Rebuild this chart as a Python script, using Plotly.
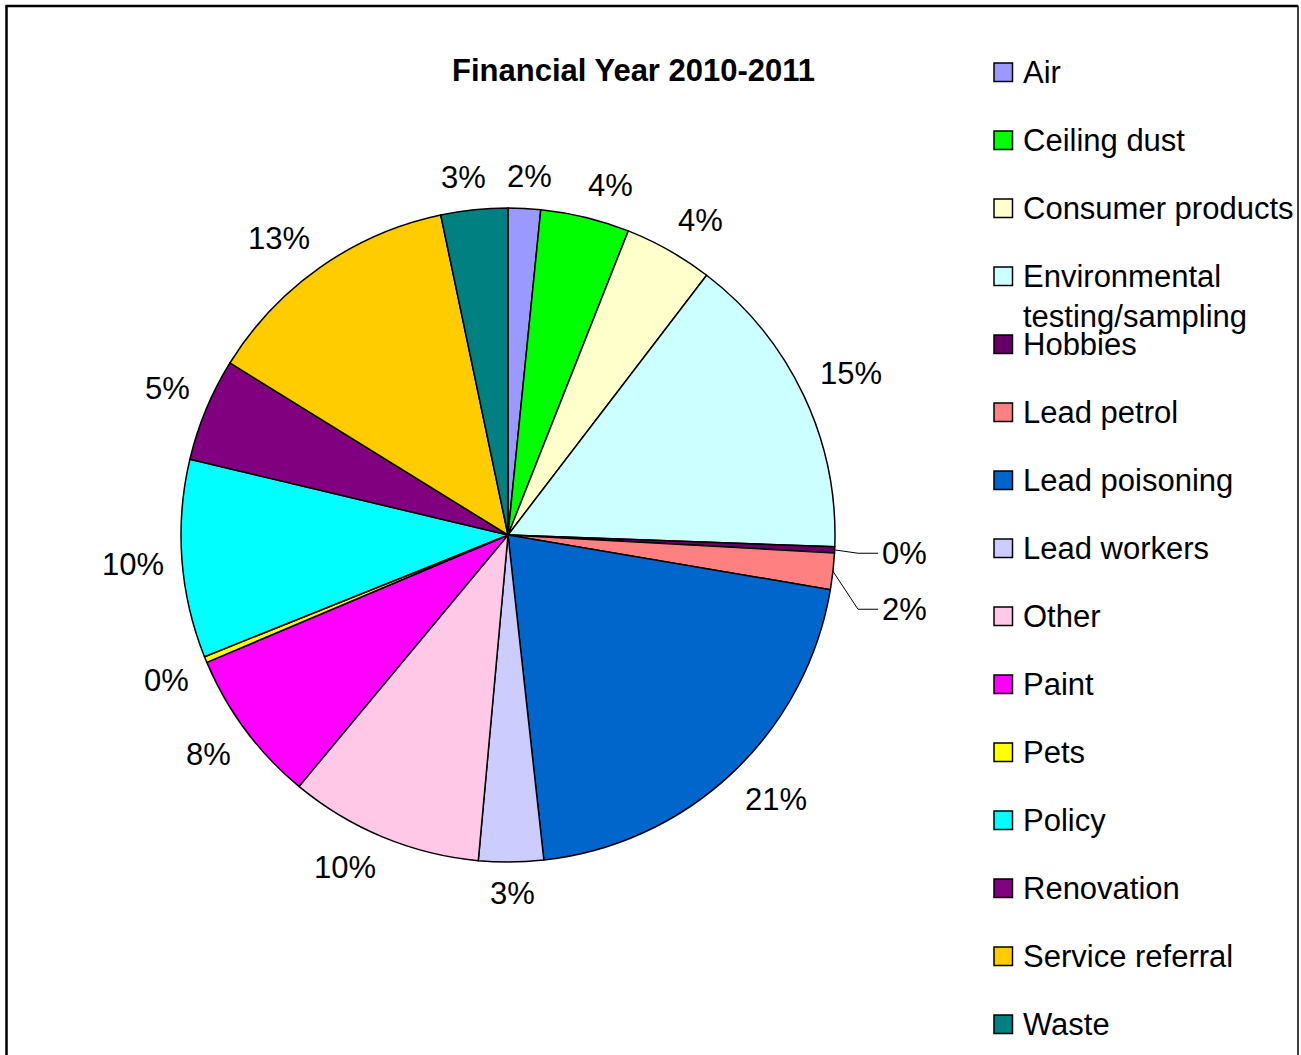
import math
import plotly.graph_objects as go

W, H = 1301, 1055

categories = ["Air", "Ceiling dust", "Consumer products", "Environmental testing/sampling",
              "Hobbies", "Lead petrol", "Lead poisoning", "Lead workers", "Other", "Paint",
              "Pets", "Policy", "Renovation", "Service referral", "Waste"]
legend_labels = ["Air", "Ceiling dust", "Consumer products", "Environmental<br>testing/sampling",
                 "Hobbies", "Lead petrol", "Lead poisoning", "Lead workers", "Other", "Paint",
                 "Pets", "Policy", "Renovation", "Service referral", "Waste"]
shares = [1.6, 4.4, 4.4, 15.2, 0.3, 1.8, 20.6, 3.2, 9.6, 7.6, 0.3, 9.8, 5.1, 12.9, 3.3]
colors = ["#9999FF", "#00FF00", "#FFFFCC", "#CCFFFF", "#660066", "#FF8080", "#0066CC",
          "#CCCCFF", "#FFC8E6", "#FF00FF", "#FFFF00", "#00FFFF", "#800080", "#FFCC00", "#008080"]
title_text = "Financial Year 2010-2011"

FONT = "Liberation Sans, Arial, sans-serif"
FS = 31


def px(x):
    return x / W


def py(y):
    return 1 - y / H


cx, cy, r = 508, 535, 327

fig = go.Figure()
fig.add_trace(go.Pie(
    labels=categories,
    values=shares,
    sort=False,
    direction="clockwise",
    rotation=0,
    marker=dict(colors=colors, line=dict(color="black", width=1.5)),
    textinfo="none",
    domain=dict(x=[px(cx - r), px(cx + r)], y=[py(cy + r), py(cy - r)]),
    showlegend=False,
    hovertemplate="%{label}: %{percent:.0%}<extra></extra>",
))

shapes = []
annotations = []

# ---- Percentage labels placed outside the pie (derived from the slice values) ----
total = sum(shares)
labels_info = []
cum = 0.0
R_LAB = r + 18
HH = 14
for v in shares:
    theta = math.radians((cum + v / 2) / total * 360)
    cum += v
    txt = "%d%%" % round(v / total * 100)
    ndig = len(txt) - 1
    w = (0.556 * ndig + 0.889) * FS
    s, c = math.sin(theta), math.cos(theta)
    fx = math.copysign(min(1.0, abs(s) / 0.25), s)
    fy = math.copysign(min(1.0, abs(c) / 0.25), c)
    x = cx + R_LAB * s + fx * w / 2
    y = cy - R_LAB * c - fy * HH
    labels_info.append(dict(theta=theta, txt=txt, w=w, s=s, c=c, x=x, y=y, leader=False))

n = len(labels_info)
BOX_H = 28
for i in range(1, n):
    a, b = labels_info[i - 1], labels_info[i]
    if abs(a["x"] - b["x"]) < (a["w"] + b["w"]) / 2 and abs(a["y"] - b["y"]) < BOX_H:
        a["leader"] = True
        b["leader"] = True

prev = None
for i, L in enumerate(labels_info):
    if L["leader"]:
        right = L["s"] > 0
        if prev is not None and prev["leader"] and (prev["s"] > 0) == right:
            L["y"] = prev["y"] + (56 if right else -56)
        edge = cx + r + 46 if right else cx - r - 46
        sign = 1 if right else -1
        rim = (cx + r * L["s"], cy - r * L["c"])
        elbow = (edge - sign * 23, L["y"])
        end = (edge - sign * 3, L["y"])
        for (x0, y0), (x1, y1) in ((rim, elbow), (elbow, end)):
            shapes.append(dict(type="line", xref="paper", yref="paper",
                               x0=px(x0), y0=py(y0), x1=px(x1), y1=py(y1),
                               line=dict(color="black", width=1)))
        annotations.append(dict(text=L["txt"], xref="paper", yref="paper",
                                x=px(edge), y=py(L["y"]),
                                xanchor="left" if right else "right", yanchor="middle",
                                showarrow=False, borderpad=0,
                                font=dict(family=FONT, size=FS, color="black")))
    else:
        annotations.append(dict(text=L["txt"], xref="paper", yref="paper",
                                x=px(L["x"]), y=py(L["y"]),
                                xanchor="center", yanchor="middle",
                                showarrow=False, borderpad=0,
                                font=dict(family=FONT, size=FS, color="black")))
    prev = L

# ---- Outer frame (left, top, right; bottom runs off the page) ----
for (x0, y0, x1, y1, lw) in ((6.5, 5.5, 6.5, 1060, 2.5), (5.5, 6, 1298, 6, 2.5),
                             (1298, 5.5, 1298, 1060, 1.5)):
    shapes.append(dict(type="line", xref="paper", yref="paper",
                       x0=px(x0), y0=py(y0), x1=px(x1), y1=py(y1),
                       line=dict(color="black", width=lw)))

# ---- Title ----
annotations.append(dict(text="<b>" + title_text + "</b>", xref="paper", yref="paper",
                        x=px(633), y=py(70), xanchor="center", yanchor="middle",
                        showarrow=False, font=dict(family=FONT, size=FS, color="black")))

# ---- Legend (keys + text) ----
for i, (lab, col) in enumerate(zip(legend_labels, colors)):
    yc = 72 + 68 * i
    shapes.append(dict(type="rect", xref="paper", yref="paper",
                       x0=px(994), x1=px(1012.5), y0=py(yc + 9.5), y1=py(yc - 9),
                       line=dict(color="black", width=1.5), fillcolor=col))
    annotations.append(dict(text=lab, xref="paper", yref="paper",
                            x=px(1022), y=py(yc - 18), xanchor="left", yanchor="top",
                            align="left", showarrow=False, borderpad=0,
                            font=dict(family=FONT, size=FS, color="black")))

fig.update_layout(
    width=W, height=H,
    margin=dict(l=0, r=0, t=0, b=0),
    paper_bgcolor="white",
    plot_bgcolor="white",
    shapes=shapes,
    annotations=annotations,
    font=dict(family=FONT),
)

fig.write_html("out.html",
               config={"displayModeBar": False},
               post_script="document.body.style.margin='0';document.body.style.overflow='hidden';")
